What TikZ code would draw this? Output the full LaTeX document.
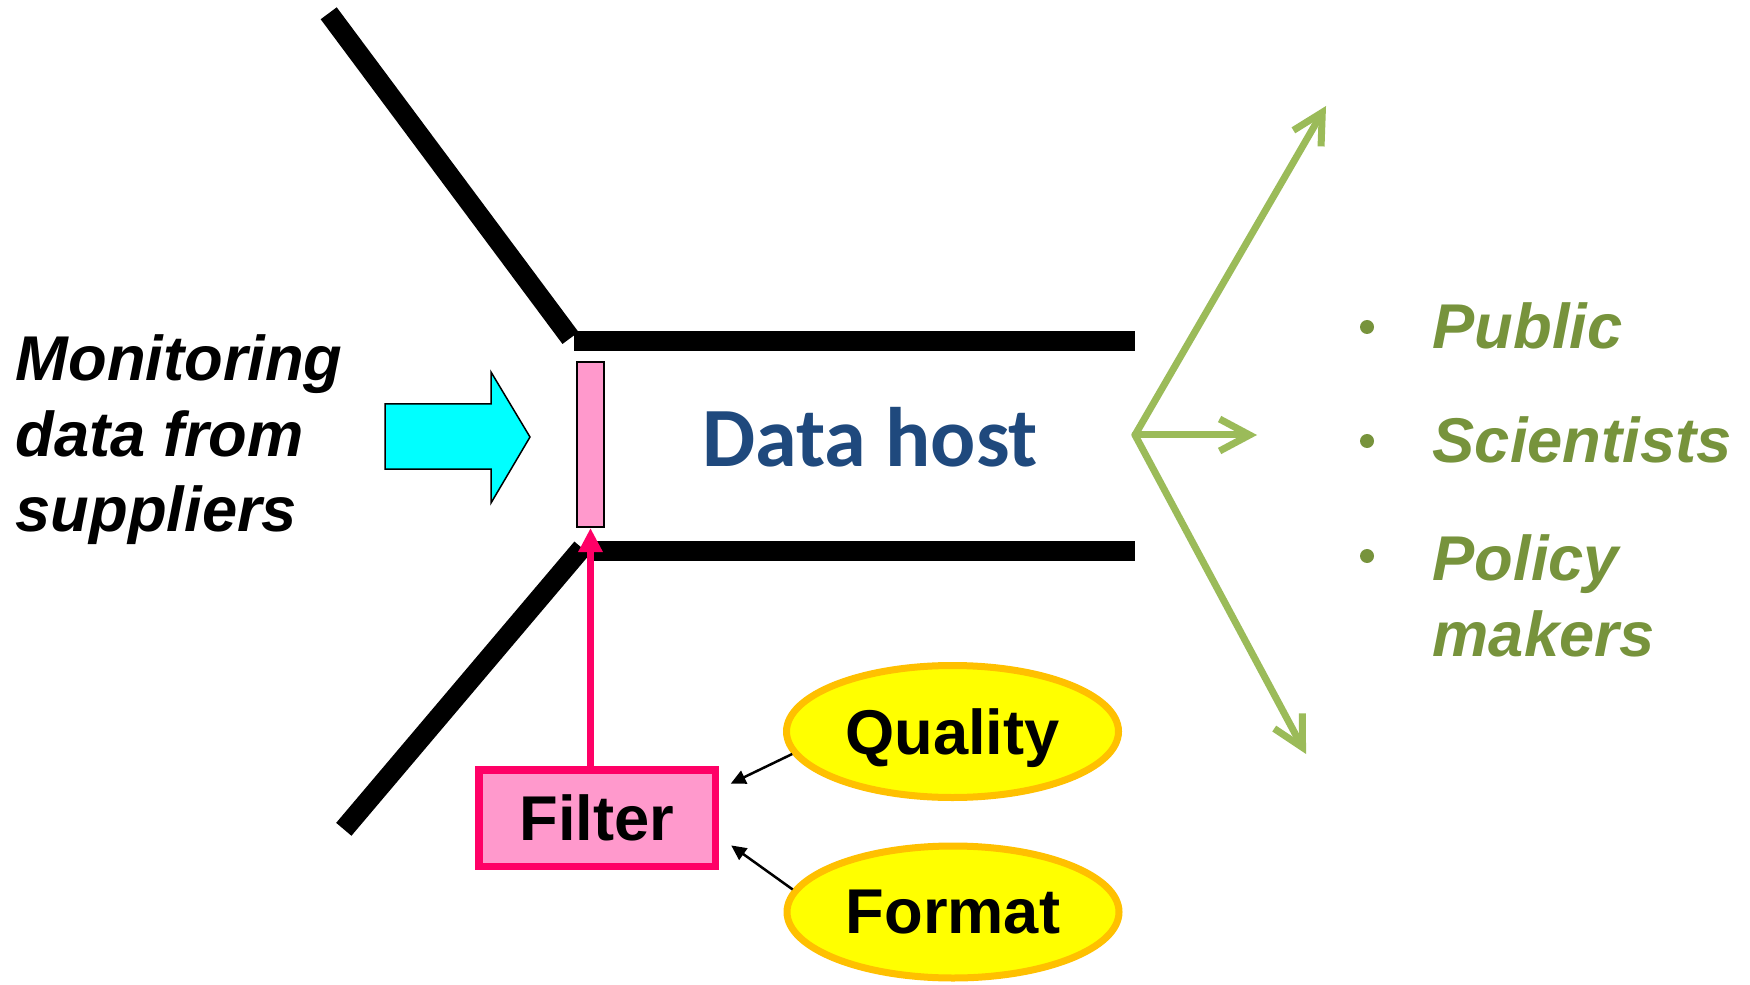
\documentclass[tikz,border=0pt]{standalone}
\usepackage{fontspec}
\setmainfont{Liberation Sans}
\newfontfamily\hostfont{Carlito}
\usetikzlibrary{arrows.meta, positioning, shapes.geometric, calc}
\definecolor{fncyan}{HTML}{00FFFF}
\definecolor{fnpink}{HTML}{FF99CC}
\definecolor{fnmagenta}{HTML}{FF0066}
\definecolor{fnyellow}{HTML}{FFFF00}
\definecolor{fnorange}{HTML}{FFC000}
\definecolor{fnnavy}{HTML}{1F497D}
\definecolor{fngreen}{HTML}{9BBB59}
\definecolor{fnolive}{HTML}{77933C}

\begin{document}
\begin{tikzpicture}[
  every node/.style={font=\fontsize{18}{21.5}\selectfont\bfseries, inner sep=0pt},
  wall/.style={line width=0.2cm, black},
  gatenode/.style={rectangle, draw=black, fill=fnpink, line width=0.02cm, minimum width=0.27cm, minimum height=1.65cm},
  filternode/.style={rectangle, draw=fnmagenta, fill=fnpink, line width=0.075cm, minimum width=2.365cm, minimum height=0.965cm},
  checknode/.style={ellipse, draw=fnorange, fill=fnyellow, line width=0.07cm, minimum width=3.32cm, minimum height=1.32cm, text depth=0pt},
  outarrow/.style={-{Straight Barb[length=0.3cm, width=0.32cm]}, fngreen, line width=0.07cm, line cap=round},
  tinyarrow/.style={-{Triangle[length=0.15cm, width=0.14cm]}, line width=0.025cm},
  itemtext/.style={anchor=base west, text=fnolive, font=\fontsize{18}{21.5}\selectfont\bfseries\itshape, align=left},
]
\useasboundingbox (0,0) rectangle (17.5,9.84);

% funnel walls
\draw[wall] (3.287,9.707) -- (5.705,6.46);
\draw[wall] (5.74,6.43) -- (11.35,6.43);
\draw[wall] (3.438,1.547) -- (5.82,4.36);
\draw[wall] (5.90,4.335) -- (11.35,4.335);

% incoming data
\node[align=left, anchor=base west, font=\fontsize{18}{21.5}\selectfont\bfseries\itshape] (supply) at (0.15,4.52) {Monitoring\\data from\\suppliers};
\draw[fill=fncyan, line width=0.015cm] (3.85,5.80) -- (4.91,5.80) -- (4.91,6.12) -- (5.30,5.47) -- (4.91,4.81) -- (4.91,5.15) -- (3.85,5.15) -- cycle;

\node[gatenode] (gate) at (5.905,5.395) {};
\node[anchor=base, text=fnnavy, font=\hostfont\fontsize{24}{28}\selectfont\bfseries] (host) at (8.70,5.18) {Data host};

% filter and its checks
\node[filternode] (filter) at (5.97,1.66) {Filter};
\node[checknode] (quality) at (9.525,2.525) {Quality};
\node[checknode] (format) at (9.53,0.72) {Format};

\draw[-{Triangle[length=0.24cm, width=0.23cm]}, fnmagenta, line width=0.075cm] (gate.south |- filter.north) -- (gate.south);
\draw[tinyarrow, shorten >=0.13cm] (quality.188) -- ([yshift=0.287cm]filter.east);
\draw[tinyarrow, shorten >=0.15cm] (format.172) -- ([yshift=-0.187cm]filter.east);

% outputs
\coordinate (hub) at (11.35,5.49);
\coordinate (up) at (13.26,8.78);
\coordinate (mid) at (12.57,5.49);
\coordinate (down) at (13.06,2.30);
\draw[outarrow] (hub) -- (up);
\draw[outarrow] (hub) -- (mid);
\draw[outarrow] (hub) -- (down);

\fill[fnolive] (13.67,6.57) circle (0.07);
\fill[fnolive] (13.67,5.43) circle (0.07);
\fill[fnolive] (13.67,4.28) circle (0.07);
\node[itemtext] (public) at (14.32,6.35) {Public};
\node[itemtext] (sci) at (14.32,5.21) {Scientists};
\node[itemtext] (policy) at (14.32,3.28) {Policy\\makers};
\end{tikzpicture}
\end{document}
